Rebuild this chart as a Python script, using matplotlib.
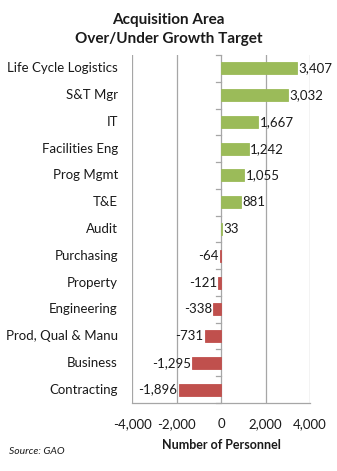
import matplotlib
matplotlib.use("Agg")
import matplotlib.pyplot as plt
import numpy as np

categories = ["Life Cycle Logistics", "S&T Mgr", "IT", "Facilities Eng", "Prog Mgmt", "T&E",
              "Audit", "Purchasing", "Property", "Engineering", "Prod, Qual & Manu",
              "Business", "Contracting"]
values = [3407, 3032, 1667, 1242, 1055, 881, 33, -64, -121, -338, -731, -1295, -1896]
xticks = [-4000, -2000, 0, 2000, 4000]

plt.rcParams['font.family'] = ['Lato', 'DejaVu Sans']

fig = plt.figure(figsize=(3.37, 4.71), dpi=100)
ax = fig.add_axes([132/337, 1-403/471, (310-132)/337, (403-55)/471])

n = len(categories)
y = np.arange(n)
colors = ["#9BBB59" if v >= 0 else "#C0504D" for v in values]
ax.barh(y, values, height=0.45, color=colors, edgecolor=colors, linewidth=0.6, zorder=3)
ax.set_ylim(n - 0.5, -0.5)
ax.set_xlim(-4000, 4000)

for yi, v in zip(y, values):
    lab = f"{v:,}"
    if v >= 0:
        ax.text(v + 60, yi, lab, va="center", ha="left", fontsize=9.5, color="#1a1a1a", zorder=4)
    else:
        ax.text(v - 60, yi, lab, va="center", ha="right", fontsize=9.5, color="#1a1a1a", zorder=4)

ax.set_xticks(xticks)
ax.set_xticklabels([f"{t:,}" for t in xticks], fontsize=9.5, color="#1a1a1a")
ax.tick_params(axis="x", length=0, pad=11)
for t in xticks:
    if t != 0:
        ax.axvline(t, color="#A6A6A6", lw=0.9, zorder=1)
ax.axvline(0, color="#A6A6A6", lw=0.9, zorder=2)

ax.set_yticks([])
for yi, c in zip(y, categories):
    ax.text(-4000 - 630, yi, c, ha="right", va="center", fontsize=9.5, color="#1a1a1a")
# category boundary tick marks at zero axis
for b in np.arange(-0.5, n, 1.0):
    ax.plot([-220, 0], [b, b], color="#A6A6A6", lw=0.9, zorder=2, clip_on=False)

for s in ["top", "right", "left"]:
    ax.spines[s].set_visible(False)
ax.spines["bottom"].set_color("#A6A6A6")
ax.spines["bottom"].set_linewidth(0.9)

ax.set_xlabel("Number of Personnel", fontsize=9, fontweight="bold", color="#1a1a1a", labelpad=6)

fig.text(0.5, 1-20/471, "Acquisition Area", ha="center", va="center", fontsize=11, fontweight="bold", color="#1a1a1a")
fig.text(0.5, 1-39/471, "Over/Under Growth Target", ha="center", va="center", fontsize=11, fontweight="bold", color="#1a1a1a")
fig.text(9/337, 1-452/471, "Source: GAO", ha="left", va="center", fontsize=7.5, style="italic", color="#1a1a1a")

fig.savefig("out.png", dpi=100)
